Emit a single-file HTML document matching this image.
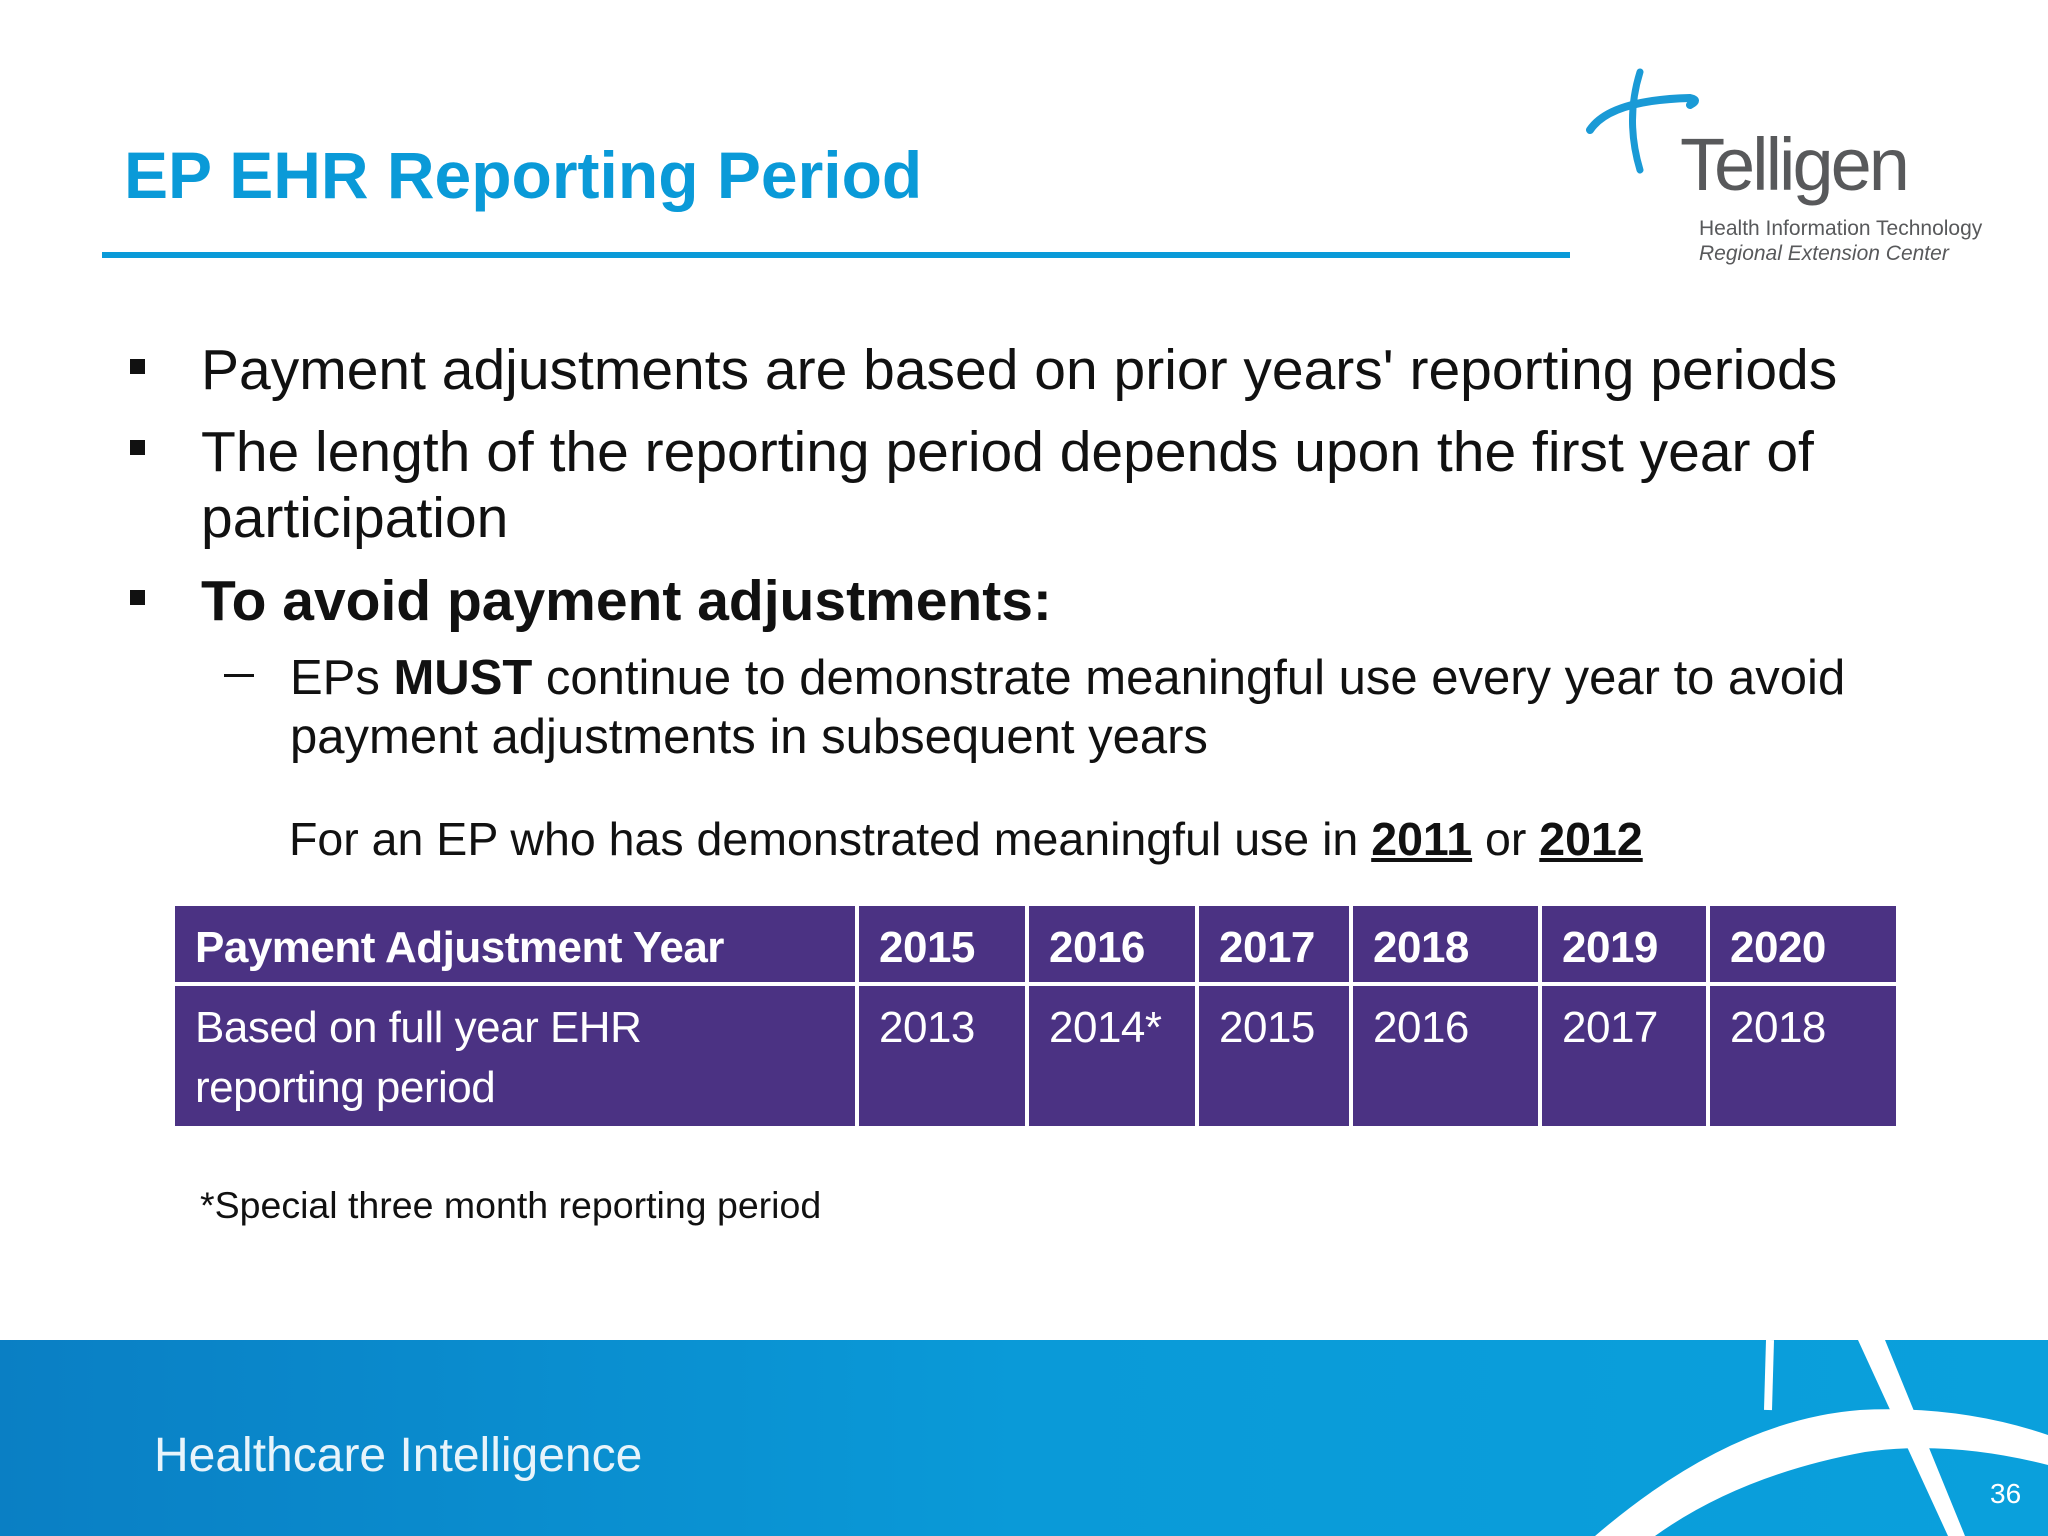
<!DOCTYPE html>
<html><head><meta charset="utf-8"><style>
body{margin:0;width:2048px;height:1536px;position:relative;overflow:hidden;background:#fff;font-family:"Liberation Sans",sans-serif;}
.a{position:absolute;white-space:nowrap;line-height:1;}
.t{color:#111;font-size:57px;}
.sq{position:absolute;width:15px;height:15px;background:#111;}
table{position:absolute;left:171px;top:902px;border-collapse:collapse;}
td{background:#4b3283;color:#fff;font-size:44px;letter-spacing:-0.5px;vertical-align:top;padding:18px 0 0 20px;border:4px solid #fff;box-sizing:border-box;}
tr.h td{font-weight:bold;height:80px;padding-top:17px;}
tr.r td{height:144px;line-height:60px;padding-top:12px;}
</style></head><body>
<div class="a" style="left:124px;top:142px;font-size:66px;font-weight:bold;color:#0a9ad8;">EP EHR Reporting Period</div>
<div class="a" style="left:102px;top:252px;width:1468px;height:6px;background:#0a9ad8;"></div>

<svg style="position:absolute;left:1580px;top:60px" width="440" height="220">
<path d="M10 70 Q30 40 110 38 Q120 40 110 45" stroke="#1a9ad6" stroke-width="8" fill="none" stroke-linecap="round"/>
<path d="M60 12 Q45 60 60 110" stroke="#1a9ad6" stroke-width="7" fill="none" stroke-linecap="round"/>
<text x="100" y="130" font-size="74" fill="#58595b" font-family="Liberation Sans" letter-spacing="-3">Telligen</text>
<text x="119" y="175" font-size="21" fill="#58595b" font-family="Liberation Sans">Health Information Technology</text>
<text x="119" y="200" font-size="21" fill="#58595b" font-style="italic" font-family="Liberation Sans">Regional Extension Center</text>
</svg>

<div class="sq" style="left:130px;top:359px"></div>
<div class="a t" style="left:201px;top:342px">Payment adjustments are based on prior years' reporting periods</div>
<div class="sq" style="left:130px;top:440px"></div>
<div class="a t" style="left:201px;top:424px">The length of the reporting period depends upon the first year of</div>
<div class="a t" style="left:201px;top:490px">participation</div>
<div class="sq" style="left:130px;top:590px"></div>
<div class="a t" style="left:201px;top:573px;font-weight:bold">To avoid payment adjustments:</div>
<div class="a" style="left:224px;top:674px;width:30px;height:3px;background:#111"></div>
<div class="a t" style="left:290px;top:654px;font-size:49px">EPs <b>MUST</b> continue to demonstrate meaningful use every year to avoid</div>
<div class="a t" style="left:290px;top:713px;font-size:49px">payment adjustments in subsequent years</div>
<div class="a t" style="left:289px;top:816px;font-size:46.5px">For an EP who has demonstrated meaningful use in <b><u>2011</u></b> or <b><u>2012</u></b></div>

<table>
<tr class="h">
<td style="width:684px">Payment Adjustment Year</td>
<td style="width:170px">2015</td>
<td style="width:170px">2016</td>
<td style="width:154px">2017</td>
<td style="width:189px">2018</td>
<td style="width:168px">2019</td>
<td style="width:190px">2020</td></tr>
<tr class="r">
<td>Based on full year EHR<br>reporting period</td>
<td>2013</td>
<td>2014*</td>
<td>2015</td>
<td>2016</td>
<td>2017</td>
<td>2018</td></tr>
</table>

<div class="a t" style="left:200px;top:1187px;font-size:37.5px">*Special three month reporting period</div>

<div style="position:absolute;left:0;top:1340px;width:2048px;height:196px;background:linear-gradient(90deg,#0a7fc4,#0a9ad8 50%,#0aa0dc);"></div>
<svg style="position:absolute;left:0;top:1340px" width="2048" height="196">
<path d="M1770 0 L1768 70" stroke="#fff" stroke-width="8" fill="none"/>
<path d="M1858 0 L1948 196 L1965 196 L1885 0 Z" fill="#fff"/>
<path d="M1595 196 Q1730 80 1860 70 Q1960 65 2048 95 L2048 125 Q1950 100 1865 112 Q1740 135 1655 196 Z" fill="#fff"/>
</svg>
<div class="a" style="left:154px;top:1432px;font-size:48px;color:#e8f4fb;">Healthcare Intelligence</div>
<div class="a" style="left:1990px;top:1480px;font-size:28px;color:#fff">36</div>
</body></html>
